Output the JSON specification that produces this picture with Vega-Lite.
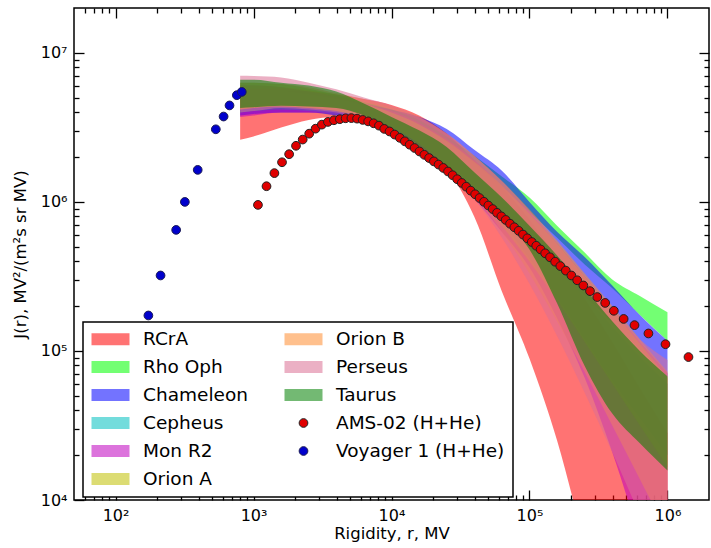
{
  "$schema": "https://vega.github.io/schema/vega-lite/v6.json",
  "width": 635,
  "height": 492,
  "autosize": {"type": "none"},
  "padding": {"left": 74, "top": 8, "right": 2, "bottom": 48},
  "background": "white",
  "config": {
    "font": "DejaVu Sans",
    "view": {"stroke": "black", "strokeWidth": 1.5},
    "legend": {"strokeWidth": 1.5},
    "axis": {
      "domain": false,
      "grid": false,
      "tickColor": "black",
      "tickWidth": 1.3,
      "labelFont": "DejaVu Sans",
      "labelFontSize": 16,
      "labelColor": "black",
      "labelOverlap": false,
      "labelFlush": false,
      "labelBound": false,
      "titleFont": "DejaVu Sans",
      "titleFontSize": 16.5,
      "titleFontWeight": "normal",
      "titleColor": "black"
    }
  },
  "datasets": {
    "bands": [
      {"name": "RCrA", "r": 800, "lo": 2.61e6, "hi": 5.25e6},
      {"name": "RCrA", "r": 1000, "lo": 2.75e6, "hi": 5.37e6},
      {"name": "RCrA", "r": 1585, "lo": 3.16e6, "hi": 5.50e6},
      {"name": "RCrA", "r": 2512, "lo": 3.55e6, "hi": 5.50e6},
      {"name": "RCrA", "r": 3981, "lo": 3.72e6, "hi": 5.25e6},
      {"name": "RCrA", "r": 6310, "lo": 3.59e6, "hi": 4.90e6},
      {"name": "RCrA", "r": 10000, "lo": 3.09e6, "hi": 4.47e6},
      {"name": "RCrA", "r": 15850, "lo": 2.34e6, "hi": 3.80e6},
      {"name": "RCrA", "r": 25120, "lo": 1.66e6, "hi": 2.88e6},
      {"name": "RCrA", "r": 39810, "lo": 7.94e5, "hi": 1.91e6},
      {"name": "RCrA", "r": 63100, "lo": 2.51e5, "hi": 1.26e6},
      {"name": "RCrA", "r": 100000, "lo": 8.91e4, "hi": 7.59e5},
      {"name": "RCrA", "r": 158500, "lo": 2.51e4, "hi": 4.17e5},
      {"name": "RCrA", "r": 251200, "lo": 5010, "hi": 2.24e5},
      {"name": "RCrA", "r": 398100, "lo": 1000, "hi": 1.15e5},
      {"name": "RCrA", "r": 631000, "lo": 200, "hi": 5.62e4},
      {"name": "RCrA", "r": 1000000, "lo": 40, "hi": 2.82e4},

      {"name": "Rho Oph", "r": 800, "lo": 3.98e6, "hi": 6.31e6},
      {"name": "Rho Oph", "r": 1000, "lo": 4.07e6, "hi": 6.31e6},
      {"name": "Rho Oph", "r": 1585, "lo": 4.17e6, "hi": 6.17e6},
      {"name": "Rho Oph", "r": 2512, "lo": 4.17e6, "hi": 5.75e6},
      {"name": "Rho Oph", "r": 3981, "lo": 3.98e6, "hi": 5.25e6},
      {"name": "Rho Oph", "r": 6310, "lo": 3.72e6, "hi": 4.68e6},
      {"name": "Rho Oph", "r": 10000, "lo": 3.24e6, "hi": 4.17e6},
      {"name": "Rho Oph", "r": 15850, "lo": 2.82e6, "hi": 3.55e6},
      {"name": "Rho Oph", "r": 25120, "lo": 2.51e6, "hi": 2.75e6},
      {"name": "Rho Oph", "r": 39810, "lo": 1.82e6, "hi": 2.04e6},
      {"name": "Rho Oph", "r": 63100, "lo": 1.26e6, "hi": 1.48e6},
      {"name": "Rho Oph", "r": 100000, "lo": 8.51e5, "hi": 1.07e6},
      {"name": "Rho Oph", "r": 158500, "lo": 5.75e5, "hi": 6.92e5},
      {"name": "Rho Oph", "r": 251200, "lo": 3.80e5, "hi": 4.57e5},
      {"name": "Rho Oph", "r": 398100, "lo": 2.63e5, "hi": 3.02e5},
      {"name": "Rho Oph", "r": 631000, "lo": 1.74e5, "hi": 2.34e5},
      {"name": "Rho Oph", "r": 1000000, "lo": 1.17e5, "hi": 1.82e5},

      {"name": "Chameleon", "r": 800, "lo": 3.80e6, "hi": 6.03e6},
      {"name": "Chameleon", "r": 1000, "lo": 3.89e6, "hi": 6.03e6},
      {"name": "Chameleon", "r": 1585, "lo": 3.98e6, "hi": 5.89e6},
      {"name": "Chameleon", "r": 2512, "lo": 3.98e6, "hi": 5.50e6},
      {"name": "Chameleon", "r": 3981, "lo": 3.80e6, "hi": 5.13e6},
      {"name": "Chameleon", "r": 6310, "lo": 3.55e6, "hi": 4.57e6},
      {"name": "Chameleon", "r": 10000, "lo": 3.09e6, "hi": 4.17e6},
      {"name": "Chameleon", "r": 15850, "lo": 2.45e6, "hi": 3.72e6},
      {"name": "Chameleon", "r": 25120, "lo": 1.82e6, "hi": 3.09e6},
      {"name": "Chameleon", "r": 39810, "lo": 1.29e6, "hi": 2.24e6},
      {"name": "Chameleon", "r": 63100, "lo": 8.51e5, "hi": 1.62e6},
      {"name": "Chameleon", "r": 100000, "lo": 5.50e5, "hi": 1.00e6},
      {"name": "Chameleon", "r": 158500, "lo": 3.55e5, "hi": 6.31e5},
      {"name": "Chameleon", "r": 251200, "lo": 2.34e5, "hi": 4.27e5},
      {"name": "Chameleon", "r": 398100, "lo": 1.55e5, "hi": 2.75e5},
      {"name": "Chameleon", "r": 631000, "lo": 1.02e5, "hi": 1.74e5},
      {"name": "Chameleon", "r": 1000000, "lo": 6.76e4, "hi": 1.17e5},

      {"name": "Cepheus", "r": 800, "lo": 3.98e6, "hi": 5.50e6},
      {"name": "Cepheus", "r": 1000, "lo": 4.07e6, "hi": 5.50e6},
      {"name": "Cepheus", "r": 1585, "lo": 4.17e6, "hi": 5.50e6},
      {"name": "Cepheus", "r": 2512, "lo": 4.07e6, "hi": 5.25e6},
      {"name": "Cepheus", "r": 3981, "lo": 3.89e6, "hi": 4.90e6},
      {"name": "Cepheus", "r": 6310, "lo": 3.55e6, "hi": 4.47e6},
      {"name": "Cepheus", "r": 10000, "lo": 3.09e6, "hi": 3.98e6},
      {"name": "Cepheus", "r": 15850, "lo": 2.45e6, "hi": 3.31e6},
      {"name": "Cepheus", "r": 25120, "lo": 1.78e6, "hi": 2.51e6},
      {"name": "Cepheus", "r": 39810, "lo": 1.15e6, "hi": 1.66e6},
      {"name": "Cepheus", "r": 63100, "lo": 7.24e5, "hi": 1.07e6},
      {"name": "Cepheus", "r": 100000, "lo": 4.17e5, "hi": 6.61e5},
      {"name": "Cepheus", "r": 158500, "lo": 2.29e5, "hi": 3.98e5},
      {"name": "Cepheus", "r": 251200, "lo": 1.20e5, "hi": 2.40e5},
      {"name": "Cepheus", "r": 398100, "lo": 6.31e4, "hi": 1.45e5},
      {"name": "Cepheus", "r": 631000, "lo": 3.55e4, "hi": 9.12e4},
      {"name": "Cepheus", "r": 1000000, "lo": 2.00e4, "hi": 6.03e4},

      {"name": "Mon R2", "r": 800, "lo": 3.72e6, "hi": 5.75e6},
      {"name": "Mon R2", "r": 1000, "lo": 3.80e6, "hi": 5.75e6},
      {"name": "Mon R2", "r": 1585, "lo": 3.98e6, "hi": 5.75e6},
      {"name": "Mon R2", "r": 2512, "lo": 3.98e6, "hi": 5.50e6},
      {"name": "Mon R2", "r": 3981, "lo": 3.89e6, "hi": 5.01e6},
      {"name": "Mon R2", "r": 6310, "lo": 3.55e6, "hi": 4.57e6},
      {"name": "Mon R2", "r": 10000, "lo": 3.09e6, "hi": 4.07e6},
      {"name": "Mon R2", "r": 15850, "lo": 2.40e6, "hi": 3.39e6},
      {"name": "Mon R2", "r": 25120, "lo": 1.66e6, "hi": 2.63e6},
      {"name": "Mon R2", "r": 39810, "lo": 1.05e6, "hi": 1.91e6},
      {"name": "Mon R2", "r": 63100, "lo": 6.31e5, "hi": 1.29e6},
      {"name": "Mon R2", "r": 100000, "lo": 3.63e5, "hi": 8.51e5},
      {"name": "Mon R2", "r": 158500, "lo": 1.66e5, "hi": 5.25e5},
      {"name": "Mon R2", "r": 251200, "lo": 6.61e4, "hi": 3.16e5},
      {"name": "Mon R2", "r": 398100, "lo": 2.09e4, "hi": 1.91e5},
      {"name": "Mon R2", "r": 631000, "lo": 5620, "hi": 1.15e5},
      {"name": "Mon R2", "r": 1000000, "lo": 1580, "hi": 7.08e4},

      {"name": "Orion A", "r": 800, "lo": 4.17e6, "hi": 6.03e6},
      {"name": "Orion A", "r": 1000, "lo": 4.27e6, "hi": 6.03e6},
      {"name": "Orion A", "r": 1585, "lo": 4.37e6, "hi": 5.89e6},
      {"name": "Orion A", "r": 2512, "lo": 4.27e6, "hi": 5.62e6},
      {"name": "Orion A", "r": 3981, "lo": 4.07e6, "hi": 5.13e6},
      {"name": "Orion A", "r": 6310, "lo": 3.72e6, "hi": 4.57e6},
      {"name": "Orion A", "r": 10000, "lo": 3.16e6, "hi": 3.98e6},
      {"name": "Orion A", "r": 15850, "lo": 2.45e6, "hi": 3.31e6},
      {"name": "Orion A", "r": 25120, "lo": 1.74e6, "hi": 2.57e6},
      {"name": "Orion A", "r": 39810, "lo": 1.15e6, "hi": 1.86e6},
      {"name": "Orion A", "r": 63100, "lo": 6.92e5, "hi": 1.29e6},
      {"name": "Orion A", "r": 100000, "lo": 3.98e5, "hi": 8.32e5},
      {"name": "Orion A", "r": 158500, "lo": 2.19e5, "hi": 5.25e5},
      {"name": "Orion A", "r": 251200, "lo": 1.15e5, "hi": 3.16e5},
      {"name": "Orion A", "r": 398100, "lo": 6.03e4, "hi": 1.91e5},
      {"name": "Orion A", "r": 631000, "lo": 3.16e4, "hi": 1.12e5},
      {"name": "Orion A", "r": 1000000, "lo": 1.66e4, "hi": 6.61e4},

      {"name": "Orion B", "r": 800, "lo": 4.17e6, "hi": 6.31e6},
      {"name": "Orion B", "r": 1000, "lo": 4.27e6, "hi": 6.31e6},
      {"name": "Orion B", "r": 1585, "lo": 4.37e6, "hi": 6.17e6},
      {"name": "Orion B", "r": 2512, "lo": 4.27e6, "hi": 5.89e6},
      {"name": "Orion B", "r": 3981, "lo": 4.07e6, "hi": 5.37e6},
      {"name": "Orion B", "r": 6310, "lo": 3.72e6, "hi": 4.90e6},
      {"name": "Orion B", "r": 10000, "lo": 3.16e6, "hi": 4.37e6},
      {"name": "Orion B", "r": 15850, "lo": 2.45e6, "hi": 3.72e6},
      {"name": "Orion B", "r": 25120, "lo": 1.74e6, "hi": 2.88e6},
      {"name": "Orion B", "r": 39810, "lo": 1.10e6, "hi": 2.04e6},
      {"name": "Orion B", "r": 63100, "lo": 6.31e5, "hi": 1.38e6},
      {"name": "Orion B", "r": 100000, "lo": 3.31e5, "hi": 8.91e5},
      {"name": "Orion B", "r": 158500, "lo": 1.58e5, "hi": 5.50e5},
      {"name": "Orion B", "r": 251200, "lo": 7.24e4, "hi": 3.31e5},
      {"name": "Orion B", "r": 398100, "lo": 3.16e4, "hi": 2.00e5},
      {"name": "Orion B", "r": 631000, "lo": 1.38e4, "hi": 1.20e5},
      {"name": "Orion B", "r": 1000000, "lo": 6030, "hi": 7.24e4},

      {"name": "Perseus", "r": 800, "lo": 3.98e6, "hi": 7.02e6},
      {"name": "Perseus", "r": 1000, "lo": 4.07e6, "hi": 7.00e6},
      {"name": "Perseus", "r": 1585, "lo": 4.27e6, "hi": 6.84e6},
      {"name": "Perseus", "r": 2512, "lo": 4.17e6, "hi": 6.31e6},
      {"name": "Perseus", "r": 3981, "lo": 3.98e6, "hi": 5.69e6},
      {"name": "Perseus", "r": 6310, "lo": 3.63e6, "hi": 5.01e6},
      {"name": "Perseus", "r": 10000, "lo": 3.09e6, "hi": 4.42e6},
      {"name": "Perseus", "r": 15850, "lo": 2.40e6, "hi": 3.72e6},
      {"name": "Perseus", "r": 25120, "lo": 1.66e6, "hi": 2.88e6},
      {"name": "Perseus", "r": 39810, "lo": 1.05e6, "hi": 2.04e6},
      {"name": "Perseus", "r": 63100, "lo": 5.75e5, "hi": 1.38e6},
      {"name": "Perseus", "r": 100000, "lo": 2.82e5, "hi": 8.71e5},
      {"name": "Perseus", "r": 158500, "lo": 1.26e5, "hi": 5.25e5},
      {"name": "Perseus", "r": 251200, "lo": 5.25e4, "hi": 3.16e5},
      {"name": "Perseus", "r": 398100, "lo": 2.09e4, "hi": 1.91e5},
      {"name": "Perseus", "r": 631000, "lo": 7940, "hi": 1.20e5},
      {"name": "Perseus", "r": 1000000, "lo": 3160, "hi": 8.71e4},

      {"name": "Taurus", "r": 800, "lo": 4.27e6, "hi": 6.61e6},
      {"name": "Taurus", "r": 1000, "lo": 4.32e6, "hi": 6.61e6},
      {"name": "Taurus", "r": 1585, "lo": 4.42e6, "hi": 6.31e6},
      {"name": "Taurus", "r": 2512, "lo": 4.37e6, "hi": 6.03e6},
      {"name": "Taurus", "r": 3981, "lo": 4.27e6, "hi": 5.50e6},
      {"name": "Taurus", "r": 6310, "lo": 3.80e6, "hi": 4.57e6},
      {"name": "Taurus", "r": 10000, "lo": 3.02e6, "hi": 3.72e6},
      {"name": "Taurus", "r": 15850, "lo": 2.24e6, "hi": 3.02e6},
      {"name": "Taurus", "r": 25120, "lo": 1.62e6, "hi": 2.34e6},
      {"name": "Taurus", "r": 39810, "lo": 1.15e6, "hi": 1.58e6},
      {"name": "Taurus", "r": 63100, "lo": 7.94e5, "hi": 1.07e6},
      {"name": "Taurus", "r": 100000, "lo": 4.79e5, "hi": 6.92e5},
      {"name": "Taurus", "r": 158500, "lo": 2.09e5, "hi": 4.37e5},
      {"name": "Taurus", "r": 251200, "lo": 7.94e4, "hi": 2.63e5},
      {"name": "Taurus", "r": 398100, "lo": 3.80e4, "hi": 1.58e5},
      {"name": "Taurus", "r": 631000, "lo": 2.40e4, "hi": 1.00e5},
      {"name": "Taurus", "r": 1000000, "lo": 1.58e4, "hi": 6.76e4}
    ],
    "points": [
      {"name": "AMS-02 (H+He)", "r": 1077, "J": 9.55e5},
      {"name": "AMS-02 (H+He)", "r": 1242, "J": 1.274e6},
      {"name": "AMS-02 (H+He)", "r": 1417, "J": 1.56e6},
      {"name": "AMS-02 (H+He)", "r": 1609, "J": 1.845e6},
      {"name": "AMS-02 (H+He)", "r": 1812, "J": 2.09e6},
      {"name": "AMS-02 (H+He)", "r": 2032, "J": 2.38e6},
      {"name": "AMS-02 (H+He)", "r": 2272, "J": 2.62e6},
      {"name": "AMS-02 (H+He)", "r": 2532, "J": 2.87e6},
      {"name": "AMS-02 (H+He)", "r": 2816, "J": 3.10e6},
      {"name": "AMS-02 (H+He)", "r": 3126, "J": 3.30e6},
      {"name": "AMS-02 (H+He)", "r": 3461, "J": 3.44e6},
      {"name": "AMS-02 (H+He)", "r": 3825, "J": 3.53e6},
      {"name": "AMS-02 (H+He)", "r": 4220, "J": 3.59e6},
      {"name": "AMS-02 (H+He)", "r": 4649, "J": 3.64e6},
      {"name": "AMS-02 (H+He)", "r": 5119, "J": 3.65e6},
      {"name": "AMS-02 (H+He)", "r": 5629, "J": 3.62e6},
      {"name": "AMS-02 (H+He)", "r": 6179, "J": 3.55e6},
      {"name": "AMS-02 (H+He)", "r": 6773, "J": 3.47e6},
      {"name": "AMS-02 (H+He)", "r": 7418, "J": 3.37e6},
      {"name": "AMS-02 (H+He)", "r": 8112, "J": 3.25e6},
      {"name": "AMS-02 (H+He)", "r": 8862, "J": 3.09e6},
      {"name": "AMS-02 (H+He)", "r": 9671, "J": 2.97e6},
      {"name": "AMS-02 (H+He)", "r": 10540, "J": 2.83e6},
      {"name": "AMS-02 (H+He)", "r": 11490, "J": 2.69e6},
      {"name": "AMS-02 (H+He)", "r": 12490, "J": 2.55e6},
      {"name": "AMS-02 (H+He)", "r": 13540, "J": 2.42e6},
      {"name": "AMS-02 (H+He)", "r": 14690, "J": 2.30e6},
      {"name": "AMS-02 (H+He)", "r": 15940, "J": 2.18e6},
      {"name": "AMS-02 (H+He)", "r": 17290, "J": 2.07e6},
      {"name": "AMS-02 (H+He)", "r": 18730, "J": 1.97e6},
      {"name": "AMS-02 (H+He)", "r": 20280, "J": 1.87e6},
      {"name": "AMS-02 (H+He)", "r": 21930, "J": 1.78e6},
      {"name": "AMS-02 (H+He)", "r": 23730, "J": 1.69e6},
      {"name": "AMS-02 (H+He)", "r": 25680, "J": 1.60e6},
      {"name": "AMS-02 (H+He)", "r": 27730, "J": 1.51e6},
      {"name": "AMS-02 (H+He)", "r": 29930, "J": 1.42e6},
      {"name": "AMS-02 (H+He)", "r": 32280, "J": 1.34e6},
      {"name": "AMS-02 (H+He)", "r": 34780, "J": 1.265e6},
      {"name": "AMS-02 (H+He)", "r": 37470, "J": 1.19e6},
      {"name": "AMS-02 (H+He)", "r": 40370, "J": 1.125e6},
      {"name": "AMS-02 (H+He)", "r": 43470, "J": 1.062e6},
      {"name": "AMS-02 (H+He)", "r": 46770, "J": 1.002e6},
      {"name": "AMS-02 (H+He)", "r": 50320, "J": 9.46e5},
      {"name": "AMS-02 (H+He)", "r": 54120, "J": 8.95e5},
      {"name": "AMS-02 (H+He)", "r": 58160, "J": 8.45e5},
      {"name": "AMS-02 (H+He)", "r": 62510, "J": 8.00e5},
      {"name": "AMS-02 (H+He)", "r": 67200, "J": 7.57e5},
      {"name": "AMS-02 (H+He)", "r": 72250, "J": 7.14e5},
      {"name": "AMS-02 (H+He)", "r": 77650, "J": 6.76e5},
      {"name": "AMS-02 (H+He)", "r": 83450, "J": 6.40e5},
      {"name": "AMS-02 (H+He)", "r": 89690, "J": 6.04e5},
      {"name": "AMS-02 (H+He)", "r": 96440, "J": 5.70e5},
      {"name": "AMS-02 (H+He)", "r": 103900, "J": 5.38e5},
      {"name": "AMS-02 (H+He)", "r": 111900, "J": 5.08e5},
      {"name": "AMS-02 (H+He)", "r": 120400, "J": 4.80e5},
      {"name": "AMS-02 (H+He)", "r": 129900, "J": 4.52e5},
      {"name": "AMS-02 (H+He)", "r": 140800, "J": 4.25e5},
      {"name": "AMS-02 (H+He)", "r": 153400, "J": 3.97e5},
      {"name": "AMS-02 (H+He)", "r": 167300, "J": 3.71e5},
      {"name": "AMS-02 (H+He)", "r": 183300, "J": 3.46e5},
      {"name": "AMS-02 (H+He)", "r": 201200, "J": 3.21e5},
      {"name": "AMS-02 (H+He)", "r": 221700, "J": 2.98e5},
      {"name": "AMS-02 (H+He)", "r": 245700, "J": 2.75e5},
      {"name": "AMS-02 (H+He)", "r": 274500, "J": 2.52e5},
      {"name": "AMS-02 (H+He)", "r": 309900, "J": 2.30e5},
      {"name": "AMS-02 (H+He)", "r": 353700, "J": 2.10e5},
      {"name": "AMS-02 (H+He)", "r": 408800, "J": 1.86e5},
      {"name": "AMS-02 (H+He)", "r": 481200, "J": 1.64e5},
      {"name": "AMS-02 (H+He)", "r": 577000, "J": 1.49e5},
      {"name": "AMS-02 (H+He)", "r": 728000, "J": 1.31e5},
      {"name": "AMS-02 (H+He)", "r": 968000, "J": 1.11e5},
      {"name": "AMS-02 (H+He)", "r": 1420000, "J": 9.1e4},
      {"name": "Voyager 1 (H+He)", "r": 173, "J": 1.73e5},
      {"name": "Voyager 1 (H+He)", "r": 212, "J": 3.21e5},
      {"name": "Voyager 1 (H+He)", "r": 275, "J": 6.49e5},
      {"name": "Voyager 1 (H+He)", "r": 318, "J": 1.0e6},
      {"name": "Voyager 1 (H+He)", "r": 394, "J": 1.64e6},
      {"name": "Voyager 1 (H+He)", "r": 533, "J": 3.07e6},
      {"name": "Voyager 1 (H+He)", "r": 607, "J": 3.74e6},
      {"name": "Voyager 1 (H+He)", "r": 670, "J": 4.44e6},
      {"name": "Voyager 1 (H+He)", "r": 757, "J": 5.20e6},
      {"name": "Voyager 1 (H+He)", "r": 822, "J": 5.47e6}
    ]
  },
  "layer": [
    {
      "data": {"name": "bands"},
      "mark": {"type": "area", "interpolate": "monotone", "clip": true},
      "encoding": {
        "x": {
          "field": "r", "type": "quantitative",
          "scale": {"type": "log", "domain": [50, 2000000], "nice": false, "zero": false},
          "axis": {
            "orient": "bottom",
            "values": [60,70,80,90,100,200,300,400,500,600,700,800,900,1000,2000,3000,4000,5000,6000,7000,8000,9000,10000,20000,30000,40000,50000,60000,70000,80000,90000,100000,200000,300000,400000,500000,600000,700000,800000,900000,1000000],
            "labelExpr": "datum.value == 100 ? '10²' : datum.value == 1000 ? '10³' : datum.value == 10000 ? '10⁴' : datum.value == 100000 ? '10⁵' : datum.value == 1000000 ? '10⁶' : ''",
            "tickSize": {"condition": {"test": "datum.value == 100 || datum.value == 1000 || datum.value == 10000 || datum.value == 100000 || datum.value == 1000000", "value": -10}, "value": -5},
            "labelPadding": 17,
            "title": "Rigidity, r, MV",
            "titleY": 38,
            "titleBaseline": "alphabetic"
          }
        },
        "y": {
          "field": "lo", "type": "quantitative",
          "scale": {"type": "log", "domain": [10000, 20000000], "nice": false, "zero": false},
          "axis": {
            "orient": "left",
            "values": [10000,20000,30000,40000,50000,60000,70000,80000,90000,100000,200000,300000,400000,500000,600000,700000,800000,900000,1000000,2000000,3000000,4000000,5000000,6000000,7000000,8000000,9000000,10000000],
            "labelExpr": "datum.value == 10000 ? '10⁴' : datum.value == 100000 ? '10⁵' : datum.value == 1000000 ? '10⁶' : datum.value == 10000000 ? '10⁷' : ''",
            "tickSize": {"condition": {"test": "datum.value == 10000 || datum.value == 100000 || datum.value == 1000000 || datum.value == 10000000", "value": -10}, "value": -5},
            "labelPadding": 17,
            "title": "J(r), MV²/(m²s sr MV)",
            "titleX": -54,
            "titleBaseline": "middle"
          }
        },
        "y2": {"field": "hi"},
        "color": {
          "field": "name", "type": "nominal",
          "scale": {
            "domain": ["RCrA", "Rho Oph", "Chameleon", "Cepheus", "Mon R2", "Orion A", "Orion B", "Perseus", "Taurus", "AMS-02 (H+He)", "Voyager 1 (H+He)"],
            "range": ["rgba(255,0,0,0.55)", "rgba(0,255,0,0.55)", "rgba(0,0,255,0.55)", "rgba(0,191,191,0.55)", "rgba(191,0,191,0.55)", "rgba(191,191,0,0.55)", "rgba(255,140,48,0.55)", "rgba(219,112,147,0.55)", "rgba(0,128,0,0.55)", "#e00000", "#0000cc"]
          },
          "legend": {
            "orient": "none",
            "legendX": 9,
            "legendY": 314,
            "title": null,
            "columns": 2,
            "symbolSize": 1444,
            "symbolStrokeWidth": 1,
            "symbolOpacity": 1,
            "clipHeight": 18,
            "labelFont": "DejaVu Sans",
            "labelFontSize": 18.5,
            "labelColor": "black",
            "labelOffset": 13,
            "labelLimit": 400,
            "rowPadding": 9,
            "columnPadding": 36,
            "padding": 8,
            "strokeColor": "black",
            "fillColor": "white",
            "cornerRadius": 0
          }
        }
      }
    },
    {
      "data": {"name": "points"},
      "mark": {"type": "point", "filled": true, "size": 1444, "strokeWidth": 1, "opacity": 1},
      "encoding": {
        "x": {
          "field": "r", "type": "quantitative",
          "axis": {
            "orient": "top",
            "values": [60,70,80,90,100,200,300,400,500,600,700,800,900,1000,2000,3000,4000,5000,6000,7000,8000,9000,10000,20000,30000,40000,50000,60000,70000,80000,90000,100000,200000,300000,400000,500000,600000,700000,800000,900000,1000000],
            "labels": false,
            "tickSize": {"condition": {"test": "datum.value == 100 || datum.value == 1000 || datum.value == 10000 || datum.value == 100000 || datum.value == 1000000", "value": -10}, "value": -5},
            "title": null
          }
        },
        "y": {
          "field": "J", "type": "quantitative",
          "axis": {
            "orient": "right",
            "values": [20000,30000,40000,50000,60000,70000,80000,90000,100000,200000,300000,400000,500000,600000,700000,800000,900000,1000000,2000000,3000000,4000000,5000000,6000000,7000000,8000000,9000000,10000000],
            "labels": false,
            "tickSize": {"condition": {"test": "datum.value == 100000 || datum.value == 1000000 || datum.value == 10000000", "value": -10}, "value": -5},
            "title": null
          }
        },
        "color": {"field": "name", "type": "nominal"},
        "shape": {
          "field": "name", "type": "nominal",
          "scale": {
            "domain": ["RCrA", "Rho Oph", "Chameleon", "Cepheus", "Mon R2", "Orion A", "Orion B", "Perseus", "Taurus", "AMS-02 (H+He)", "Voyager 1 (H+He)"],
            "range": ["M-1,-0.316H1V0.316H-1Z", "M-1,-0.316H1V0.316H-1Z", "M-1,-0.316H1V0.316H-1Z", "M-1,-0.316H1V0.316H-1Z", "M-1,-0.316H1V0.316H-1Z", "M-1,-0.316H1V0.316H-1Z", "M-1,-0.316H1V0.316H-1Z", "M-1,-0.316H1V0.316H-1Z", "M-1,-0.316H1V0.316H-1Z", "M0.23,0A0.23,0.23 0 1,1 -0.23,0A0.23,0.23 0 1,1 0.23,0Z", "M0.23,0A0.23,0.23 0 1,1 -0.23,0A0.23,0.23 0 1,1 0.23,0Z"]
          }
        },
        "stroke": {
          "field": "name", "type": "nominal",
          "scale": {
            "domain": ["RCrA", "Rho Oph", "Chameleon", "Cepheus", "Mon R2", "Orion A", "Orion B", "Perseus", "Taurus", "AMS-02 (H+He)", "Voyager 1 (H+He)"],
            "range": ["transparent", "transparent", "transparent", "transparent", "transparent", "transparent", "transparent", "transparent", "transparent", "#222222", "#1a1a55"]
          }
        }
      }
    }
  ],
  "resolve": {"axis": {"x": "independent", "y": "independent"}}
}
